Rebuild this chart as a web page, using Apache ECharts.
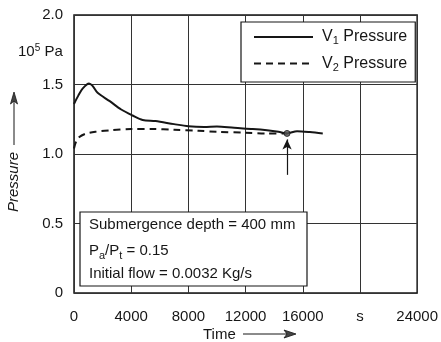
<!DOCTYPE html>
<html><head><meta charset="utf-8">
<script src="https://cdn.jsdelivr.net/npm/echarts@6/dist/echarts.min.js"></script>
<style>html,body{margin:0;padding:0;background:#fff}#c{width:441px;height:342px}</style>
</head><body><div id="c"></div>
<script>
const xTicks = [0, 4000, 8000, 12000, 16000, 20000, 24000];
const xTickLabels = ['0', '4000', '8000', '12000', '16000', 's', '24000'];
const yTickLabels = { '0': '0', '0.5': '0.5', '1': '1.0', '1.5': '1.5', '2': '2.0' };

const v1Time = [0, 300, 600, 1050, 1300, 1650, 2500, 3300, 4100, 4800, 5700, 7000, 8000, 9100, 10000, 11200, 12500, 13500, 14300, 14900, 15600, 16500, 17400];
const v1Pressure = [1.36, 1.42, 1.47, 1.507, 1.49, 1.44, 1.38, 1.32, 1.277, 1.245, 1.237, 1.215, 1.20, 1.195, 1.198, 1.188, 1.18, 1.171, 1.16, 1.148, 1.164, 1.158, 1.148];

const v2Time = [0, 150, 350, 800, 1500, 2500, 4000, 5500, 7000, 8700, 10000, 12000, 13500, 14900];
const v2Pressure = [1.04, 1.09, 1.12, 1.145, 1.16, 1.17, 1.18, 1.18, 1.175, 1.167, 1.16, 1.153, 1.148, 1.148];

const markTime = 14900, markPressure = 1.148;
const arrowFrom = 0.85, arrowTo = 1.105;

const FONT = 'Liberation Sans, Arial, sans-serif';
const INK = '#161616';

const chart = echarts.init(document.getElementById('c'), null, { renderer: 'canvas' });
const zip = (a, b) => a.map((v, i) => [v, b[i]]);

chart.setOption({
  animation: false,
  backgroundColor: '#fff',
  grid: { left: 74, right: 21, top: 15, bottom: 49, show: true, borderColor: INK, borderWidth: 1.5, backgroundColor: 'transparent' },
  xAxis: {
    type: 'value', min: 0, max: 24000, interval: 4000,
    axisLine: { show: false }, axisTick: { show: false },
    splitLine: { show: true, lineStyle: { color: '#333', width: 1 } },
    axisLabel: { color: INK, fontFamily: FONT, fontSize: 15, margin: 16,
      formatter: v => { const i = xTicks.indexOf(v); return i >= 0 ? xTickLabels[i] : ''; } }
  },
  yAxis: {
    type: 'value', min: 0, max: 2, interval: 0.5,
    axisLine: { show: false }, axisTick: { show: false },
    splitLine: { show: true, lineStyle: { color: '#333', width: 1 } },
    axisLabel: { color: INK, fontFamily: FONT, fontSize: 15, margin: 11,
      formatter: v => yTickLabels[String(v)] }
  },
  legend: {
    left: 241, top: 22, orient: 'vertical',
    backgroundColor: '#fff', borderColor: INK, borderWidth: 1.2,
    padding: [7, 8, 9, 12], itemGap: 9, itemWidth: 59, itemHeight: 14,
    itemStyle: { opacity: 0, color: 'rgba(0,0,0,0)', borderWidth: 0 },
    data: ['V1', 'V2'],
    textStyle: { color: INK, fontFamily: FONT, fontSize: 16,
      rich: { s: { fontSize: 11, verticalAlign: 'bottom', padding: [8, 0, 0, 0], fontFamily: FONT, color: INK },
              t: { fontSize: 16, fontFamily: FONT, color: INK, padding: [0, 0, 0, 4] } } },
    formatter: n => n === 'V1' ? '{t|V}{s|1} Pressure' : '{t|V}{s|2} Pressure'
  },
  series: [
    { name: 'V1', type: 'line', data: zip(v1Time, v1Pressure), symbol: 'none', smooth: 0.3,
      lineStyle: { color: INK, width: 2 }, itemStyle: { color: INK }, z: 3 },
    { name: 'V2', type: 'line', data: zip(v2Time, v2Pressure), symbol: 'none', smooth: 0.3,
      lineStyle: { color: INK, width: 2, type: [7, 5] }, itemStyle: { color: INK }, z: 3,
      markLine: { silent: true, symbol: ['none', 'arrow'], symbolSize: [7, 10], label: { show: false },
        lineStyle: { color: INK, width: 1.2, type: 'solid' },
        data: [[{ coord: [markTime, arrowFrom] }, { coord: [markTime, arrowTo] }]] } },
    { name: 'mark', type: 'scatter', data: [[markTime, markPressure]], symbol: 'circle', symbolSize: 6,
      itemStyle: { color: '#555', borderColor: INK, borderWidth: 1 }, z: 4 }
  ],
  graphic: [
    { type: 'text', left: 18, top: 43, style: { text: '{a|10}{b|5}{a| Pa}', fill: INK,
        rich: { a: { fontSize: 15, fontFamily: FONT, fill: INK }, b: { fontSize: 10, fontFamily: FONT, verticalAlign: 'top', padding: [0, 0, 8, 0], fill: INK } } } },
    { type: 'rect', z: 100, shape: { x: 80, y: 212, width: 227, height: 74 }, style: { fill: '#fff', stroke: INK, lineWidth: 1.2 } },
    { type: 'text', z: 101, x: 89, y: 217, style: { text: 'Submergence depth = 400 mm', font: '15px ' + FONT, fill: INK } },
    { type: 'text', z: 101, x: 89, y: 241, style: { text: '{a|P}{s|a}{a|/P}{s|t}{a| = 0.15}', fill: INK,
        rich: { a: { fontSize: 15, fontFamily: FONT, fill: INK }, s: { fontSize: 11, fontFamily: FONT, fill: INK, verticalAlign: 'bottom', padding: [9, 0, 0, 0] } } } },
    { type: 'text', z: 101, x: 89, y: 266, style: { text: 'Initial flow = 0.0032 Kg/s', font: '15px ' + FONT, fill: INK } },
    { type: 'text', x: 6, y: 212, rotation: Math.PI / 2, style: { text: 'Pressure', font: 'italic 15px ' + FONT, fill: INK } },
    { type: 'line', shape: { x1: 14, y1: 145, x2: 14, y2: 100 }, style: { stroke: INK, lineWidth: 1 } },
    { type: 'polygon', shape: { points: [[14, 92], [10.5, 104], [14, 101], [17.5, 104]] }, style: { fill: '#444', stroke: INK, lineWidth: 0.8 } },
    { type: 'text', left: 203, top: 327, style: { text: 'Time', font: '15px ' + FONT, fill: INK } },
    { type: 'line', shape: { x1: 243, y1: 334, x2: 288, y2: 334 }, style: { stroke: INK, lineWidth: 1 } },
    { type: 'polygon', shape: { points: [[296, 334], [284, 330], [287, 334], [284, 338]] }, style: { fill: '#444', stroke: INK, lineWidth: 0.8 } }
  ]
});
</script></body></html>
